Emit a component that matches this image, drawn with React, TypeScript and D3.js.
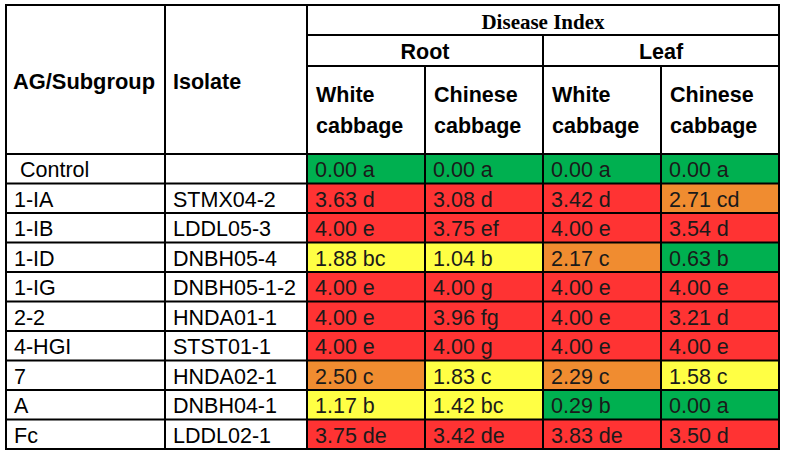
import React from "react";
import * as d3 from "d3";

const groups = ["Control", "1-IA", "1-IB", "1-ID", "1-IG", "2-2", "4-HGI", "7", "A", "Fc"];
const isolates = ["", "STMX04-2", "LDDL05-3", "DNBH05-4", "DNBH05-1-2", "HNDA01-1", "STST01-1", "HNDA02-1", "DNBH04-1", "LDDL02-1"];
const rootWhite = [0.0, 3.63, 4.0, 1.88, 4.0, 4.0, 4.0, 2.5, 1.17, 3.75];
const rootWhiteLetters = ["a", "d", "e", "bc", "e", "e", "e", "c", "b", "de"];
const rootChinese = [0.0, 3.08, 3.75, 1.04, 4.0, 3.96, 4.0, 1.83, 1.42, 3.42];
const rootChineseLetters = ["a", "d", "ef", "b", "g", "fg", "g", "c", "bc", "de"];
const leafWhite = [0.0, 3.42, 4.0, 2.17, 4.0, 4.0, 4.0, 2.29, 0.29, 3.83];
const leafWhiteLetters = ["a", "d", "e", "c", "e", "e", "e", "c", "b", "de"];
const leafChinese = [0.0, 2.71, 3.54, 0.63, 4.0, 3.21, 4.0, 1.58, 0.0, 3.5];
const leafChineseLetters = ["a", "cd", "d", "b", "e", "d", "e", "c", "a", "d"];
const columnKeys = ["rootWhite", "rootChinese", "leafWhite", "leafChinese"];
const columnLabels = [["White", "cabbage"], ["Chinese", "cabbage"], ["White", "cabbage"], ["Chinese", "cabbage"]];
const organs = ["Root", "Leaf"];

const series = [
  { values: rootWhite, letters: rootWhiteLetters },
  { values: rootChinese, letters: rootChineseLetters },
  { values: leafWhite, letters: leafWhiteLetters },
  { values: leafChinese, letters: leafChineseLetters },
];

export default function App() {
  const W = 785, H = 456;
  const left = 6, c1 = 165, c2 = 307, right = 779;
  const top = 5, h1 = 35, h2 = 66, headBottom = 154, bottom = 449;

  const y = d3.scaleBand<number>().domain(d3.range(groups.length)).range([headBottom, bottom]).padding(0);
  const x = d3.scaleBand<string>().domain(columnKeys).range([c2, right]).padding(0);
  const xOrgan = d3.scaleBand<string>().domain(organs).range([c2, right]).padding(0);
  const color = d3.scaleThreshold<number, string>().domain([1, 2, 3]).range(["#00B050", "#FFFF44", "#F08C30", "#FF3333"]);

  const sans = "'Liberation Sans', Arial, sans-serif";
  const serif = "'Liberation Serif', 'Times New Roman', serif";
  const fs = 21.5;
  const lw = 2;

  return (
    <svg width={W} height={H} style={{ position: "absolute", left: 0, top: 0, background: "#fff" }}>
      {series.map((s, ci) =>
        s.values.map((v, ri) => (
          <g key={`c${ci}-${ri}`}>
            <rect x={x(columnKeys[ci])!} y={y(ri)!} width={x.bandwidth()} height={y.bandwidth()} fill={color(v)} />
            <text x={x(columnKeys[ci])! + 8} y={y(ri)! + y.bandwidth() - 6.5} fontFamily={sans} fontSize={fs} fill="#1a1a1a">
              {d3.format(".2f")(v)} {s.letters[ri]}
            </text>
          </g>
        ))
      )}
      {groups.map((g, ri) => (
        <text key={`g${ri}`} x={ri === 0 ? 20 : 14} y={y(ri)! + y.bandwidth() - 6.5} fontFamily={sans} fontSize={fs} fill="#000">
          {g}
        </text>
      ))}
      {isolates.map((s, ri) => (
        <text key={`i${ri}`} x={173} y={y(ri)! + y.bandwidth() - 6.5} fontFamily={sans} fontSize={fs} fill="#000">
          {s}
        </text>
      ))}
      <text x={13} y={89} fontFamily={sans} fontWeight="bold" fontSize={fs} textLength={142} lengthAdjust="spacingAndGlyphs">AG/Subgroup</text>
      <text x={173} y={89} fontFamily={sans} fontWeight="bold" fontSize={fs}>Isolate</text>
      <text x={(c2 + right) / 2} y={29} textAnchor="middle" fontFamily={serif} fontWeight="bold" fontSize={21}>Disease Index</text>
      {organs.map((o) => (
        <text key={o} x={xOrgan(o)! + xOrgan.bandwidth() / 2} y={59} textAnchor="middle" fontFamily={sans} fontWeight="bold" fontSize={fs}>
          {o}
        </text>
      ))}
      {columnLabels.map((lines, ci) => (
        <text key={`h${ci}`} fontFamily={sans} fontWeight="bold" fontSize={fs}>
          <tspan x={x(columnKeys[ci])! + 9} y={102}>{lines[0]}</tspan>
          <tspan x={x(columnKeys[ci])! + 9} y={133}>{lines[1]}</tspan>
        </text>
      ))}
      <g stroke="#000" strokeWidth={lw}>
        <rect x={left} y={top} width={right - left} height={bottom - top} fill="none" />
        <line x1={c1} x2={c1} y1={top} y2={bottom} />
        <line x1={c2} x2={c2} y1={top} y2={bottom} />
        <line x1={c2} x2={right} y1={h1} y2={h1} />
        <line x1={c2} x2={right} y1={h2} y2={h2} />
        <line x1={xOrgan("Leaf")!} x2={xOrgan("Leaf")!} y1={h1} y2={bottom} />
        {columnKeys.slice(1).map((k) => (
          <line key={`v${k}`} x1={x(k)!} x2={x(k)!} y1={h2} y2={bottom} />
        ))}
        {d3.range(groups.length).map((ri) => (
          <line key={`r${ri}`} x1={left} x2={right} y1={y(ri)!} y2={y(ri)!} />
        ))}
      </g>
    </svg>
  );
}
